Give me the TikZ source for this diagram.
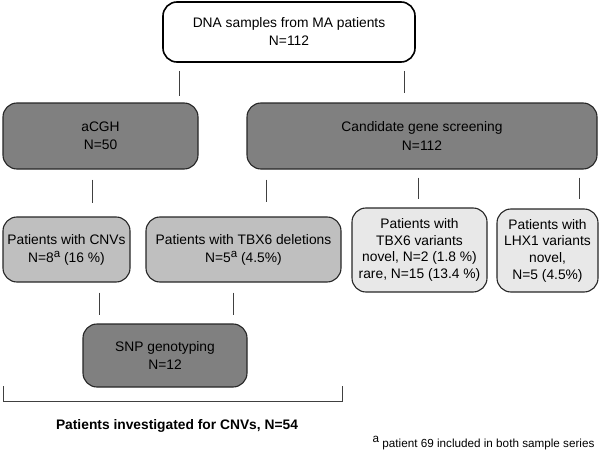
\documentclass[tikz,border=0pt]{standalone}
\usepackage{fontspec}
\setmainfont{Liberation Sans}
\usetikzlibrary{calc}

\newcommand{\supa}{\raisebox{0.6ex}{\fontsize{11.5}{12}\selectfont a}}

\begin{document}
\begin{tikzpicture}[x=1pt,y=-1pt,every text node part/.style={align=center}]
		\tikzstyle{box}=[rectangle,draw=black!85,line width=1.1pt,rounded corners=14pt,
							inner sep=2pt,font=\fontsize{13.8}{18}\selectfont]
		\tikzstyle{dark}=[box,fill=black!50]
		\tikzstyle{mid}=[box,fill=black!25]
		\tikzstyle{light}=[box,fill=black!9,font=\fontsize{13.8}{16.7}\selectfont]
		\tikzstyle{link}=[draw=black!75,line width=0.9pt]

		\useasboundingbox (0,0) rectangle (600,452);

		% top
		\node[box,fill=white,line width=1.6pt,draw=black,minimum width=252pt,minimum height=60pt] (DNA) at (289,32)
			{DNA samples from MA patients\\N=112};

		% methods
		\node[dark,minimum width=195pt,minimum height=66pt] (aCGH) at (100.5,136) {aCGH\\N=50};
		\node[dark,minimum width=350pt,minimum height=66pt] (cand) at (422,136)
			{Candidate gene screening\\N=112};

		% results
		\node[mid,minimum width=127pt,minimum height=65pt] (cnv) at (66.5,249.5)
			{Patients with CNVs\\N=8\supa{} (16 \%)};
		\node[mid,minimum width=195pt,minimum height=65pt] (del) at (243.5,249.5)
			{Patients with TBX6 deletions\\N=5\supa{} (4.5\%)};
		\node[light,minimum width=135pt,minimum height=84pt] (var) at (419.5,250)
			{Patients with\\TBX6 variants\\novel, N=2 (1.8 \%)\\rare, N=15 (13.4 \%)};
		\node[light,minimum width=101pt,minimum height=83pt] (lhx) at (547.5,250.5)
			{Patients with\\LHX1 variants\\novel,\\N=5 (4.5\%)};

		% SNP
		\node[dark,minimum width=164pt,minimum height=63pt] (snp) at (165,355.5)
			{SNP genotyping\\N=12};

		% edges
		\foreach \from/\to/\x/\a/\b in {DNA/aCGH/179/8/6, DNA/cand/404/8/9,
				aCGH/cnv/92/10/13, cand/del/266/10/14, cand/var/418/8/8,
				cand/lhx/579/8/9, cnv/snp/99/10/8, del/snp/233/10/8}
			\draw[link,shorten <=\a pt,shorten >=\b pt] (\from.south -| \x,0) -- (\to.north -| \x,0);

		% bracket
		\coordinate (bl) at (3,386);
		\coordinate (br) at (342,386);
		\draw[link] (bl) -- ++(0,15) -| (br);
		\node[font=\fontsize{13.8}{16}\selectfont\bfseries] (total) at (177,426)
			{Patients investigated for CNVs, N=54};

		\node[anchor=base east,font=\fontsize{11.7}{14}\selectfont] (note) at (598,447)
			{\raisebox{0.7ex}{a} patient 69 included in both sample series};

	\end{tikzpicture}
\end{document}
